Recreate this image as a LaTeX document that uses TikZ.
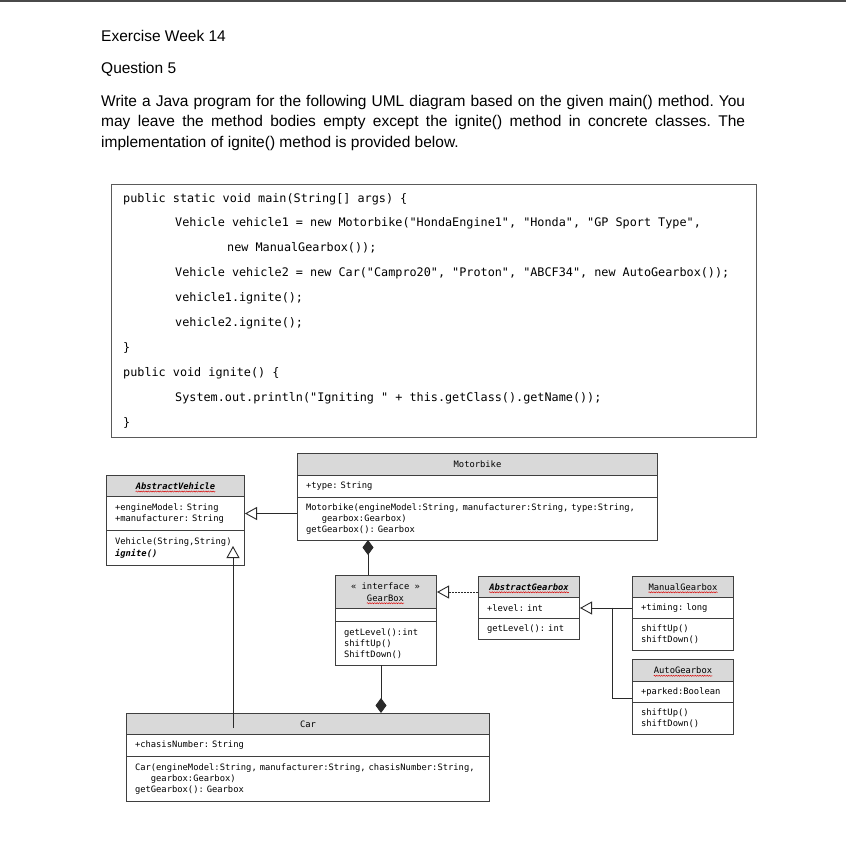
\documentclass[tikz,border=0pt]{standalone}
\usepackage{fontspec}
\setmainfont{Liberation Sans}
\setmonofont{DejaVu Sans Mono}
\usetikzlibrary{arrows.meta,decorations.pathmorphing,calc}
\definecolor{boxline}{HTML}{3F3F3F}
\definecolor{hdr}{HTML}{D9D9D9}
\definecolor{codeframe}{HTML}{5A5A5A}
\definecolor{topline}{HTML}{4A4A4A}
\definecolor{conn}{HTML}{2A2A2A}
\newcommand{\umlfont}{\ttfamily\fontsize{8.8}{11.2}\selectfont}
\newcommand{\codesize}{\ttfamily\fontsize{11.8}{14}\selectfont}
\newcommand{\txtsize}{\fontsize{15.5}{20.5}\selectfont}
\frenchspacing
\begin{document}
\begin{tikzpicture}[x=1pt,y=-1pt,
  hdrbox/.style={draw=boxline, line width=1pt, fill=hdr, anchor=north west, inner sep=0pt},
  secbox/.style={draw=boxline, line width=1pt, fill=white, anchor=north west, inner xsep=8.5pt, inner ysep=0pt, align=left, font=\umlfont},
  clsname/.style={inner sep=0pt, font=\umlfont},
  absname/.style={inner sep=0pt, font=\umlfont\bfseries\itshape},
  squig/.style={draw=red!85!black, line width=0.45pt, decorate, decoration={snake, amplitude=0.55pt, segment length=2.4pt}},
  codeline/.style={anchor=base west, inner sep=0pt, font=\codesize},
  txt/.style={anchor=base west, inner sep=0pt, font=\txtsize},
  link/.style={draw=conn, line width=0.9pt},
  gen/.style={link, -{Triangle[open, length=12pt, width=13pt]}},
  real/.style={link, dash pattern=on 1.6pt off 1.4pt, -{Triangle[open, length=12pt, width=13pt]}},
  compS/.style={link, {Diamond[length=15pt, width=11pt]}-},
  compE/.style={link, -{Diamond[length=15pt, width=11pt]}}]
\useasboundingbox (0,0) rectangle (846,868);
\fill[white] (0,0) rectangle (846,868);
\draw[topline, line width=1.6pt] (0,0.8) -- (846,0.8);

% ---- header text ----
\node[txt] (ex) at (101,41) {Exercise Week 14};
\node[txt] (q) at (101,73.5) {Question 5};
\node[txt] (p1) at (101,106) {\makebox[644pt][s]{Write a Java program for the following UML diagram based on the given main() method. You}};
\node[txt] (p2) at (101,126.5) {\makebox[644pt][s]{may leave the method bodies empty except the ignite() method in concrete classes. The}};
\node[txt] (p3) at (101,147) {implementation of ignite() method is provided below.};

% ---- code box ----
\node[draw=codeframe, line width=1.3pt, anchor=north west, minimum width=645pt, minimum height=253pt, inner sep=0pt] (codebox) at (111,184) {};
\node[codeline] (c1) at (123,202) {public static void main(String[] args) \{};
\node[codeline] (c2) at (175,226.9) {Vehicle vehicle1 = new Motorbike("HondaEngine1", "Honda", "GP Sport Type",};
\node[codeline] (c3) at (227,251.8) {new ManualGearbox());};
\node[codeline] (c4) at (175,276.7) {Vehicle vehicle2 = new Car("Campro20", "Proton", "ABCF34", new AutoGearbox());};
\node[codeline] (c5) at (175,301.6) {vehicle1.ignite();};
\node[codeline] (c6) at (175,326.5) {vehicle2.ignite();};
\node[codeline] (c7) at (123,351.4) {\}};
\node[codeline] (c8) at (123,376.3) {public void ignite() \{};
\node[codeline] (c9) at (175,401.2) {System.out.println("Igniting " + this.getClass().getName());};
\node[codeline] (c10) at (123,426.1) {\}};

% ---- AbstractVehicle ----
\node[hdrbox, minimum width=138pt, minimum height=21pt] (avh) at (106,475) {};
\node[absname] (avn) at (avh.center) {AbstractVehicle};
\node[secbox, minimum width=138pt, text width=121pt, minimum height=34pt] (ava) at (106,496) {+engineModel: String\\+manufacturer: String};
\node[secbox, minimum width=138pt, text width=121pt, minimum height=35pt] (avm) at (106,530) {Vehicle(String,String)\\\textbf{\textit{ignite()}}};

% ---- Motorbike ----
\node[hdrbox, minimum width=360pt, minimum height=22pt] (mbh) at (297,453) {};
\node[clsname] (mbn) at (mbh.center) {Motorbike};
\node[secbox, minimum width=360pt, text width=343pt, minimum height=22pt] (mba) at (297,475) {+type: String};
\node[secbox, minimum width=360pt, text width=343pt, minimum height=43pt] (mbm) at (297,497) {Motorbike(engineModel:String, manufacturer:String, type:String,\\\hspace*{15.9pt}gearbox:Gearbox)\\getGearbox(): Gearbox};

% ---- GearBox ----
\node[hdrbox, minimum width=101pt, minimum height=33pt] (gbh) at (335,575) {};
\node[clsname] (gbi) at (385.5,586) {« interface »};
\node[clsname] (gbn) at (385.5,598) {GearBox};
\node[secbox, minimum width=101pt, text width=84pt, minimum height=13pt] (gba) at (335,608) {};
\node[secbox, minimum width=101pt, text width=84pt, minimum height=44pt] (gbm) at (335,621) {getLevel():int\\shiftUp()\\ShiftDown()};

% ---- AbstractGearbox ----
\node[hdrbox, minimum width=101pt, minimum height=21pt] (agh) at (478,576) {};
\node[absname] (agn) at (agh.center) {AbstractGearbox};
\node[secbox, minimum width=101pt, text width=84pt, minimum height=21pt] (aga) at (478,597) {+level: int};
\node[secbox, minimum width=101pt, text width=84pt, minimum height=21pt] (agm) at (478,618) {getLevel(): int};

% ---- ManualGearbox ----
\node[hdrbox, minimum width=101pt, minimum height=21pt] (mgh) at (632,576) {};
\node[clsname] (mgn) at (mgh.center) {ManualGearbox};
\node[secbox, minimum width=101pt, text width=84pt, minimum height=21pt] (mga) at (632,597) {+timing: long};
\node[secbox, minimum width=101pt, text width=84pt, minimum height=32pt] (mgm) at (632,618) {shiftUp()\\shiftDown()};

% ---- AutoGearbox ----
\node[hdrbox, minimum width=101pt, minimum height=22pt] (auh) at (632,659) {};
\node[clsname] (aun) at (auh.center) {AutoGearbox};
\node[secbox, minimum width=101pt, text width=84pt, minimum height=21pt] (aua) at (632,681) {+parked:Boolean};
\node[secbox, minimum width=101pt, text width=84pt, minimum height=32pt] (aum) at (632,702) {shiftUp()\\shiftDown()};

% ---- Car ----
\node[hdrbox, minimum width=363pt, minimum height=21pt] (carh) at (126,713) {};
\node[clsname] (carn) at (carh.center) {Car};
\node[secbox, minimum width=363pt, text width=346pt, minimum height=22pt] (cara) at (126,734) {+chasisNumber: String};
\node[secbox, minimum width=363pt, text width=346pt, minimum height=45pt] (carm) at (126,756) {Car(engineModel:String, manufacturer:String, chasisNumber:String,\\\hspace*{15.9pt}gearbox:Gearbox)\\getGearbox(): Gearbox};

% ---- spell-check squiggles ----
\draw[squig] ([yshift=-2pt]avn.base west) -- ([yshift=-2pt]avn.base east);
\draw[squig] ([yshift=-2pt]gbn.base west) -- ([yshift=-2pt]gbn.base east);
\draw[squig] ([yshift=-2pt]agn.base west) -- ([yshift=-2pt]agn.base east);
\draw[squig] ([yshift=-2pt]mgn.base west) -- ([yshift=-2pt]mgn.base east);
\draw[squig] ([yshift=-2pt]aun.base west) -- ([yshift=-2pt]aun.base east);

% ---- connectors ----
\draw[gen] (mbm.west |- ava.east) -- (ava.east);
\coordinate (carjoin) at (233,728);
\coordinate (avtip) at (233,546);
\draw[gen] (carjoin) -- (avtip);
\coordinate (mbd) at (368,540);
\draw[compS] (mbd) -- (mbd |- gbh.north);
\coordinate (gbd) at (381,665);
\draw[compE] (gbd) -- (gbd |- carh.north);
\draw[real] (gbh.east -| agh.west) -- (gbh.east);
\draw[gen] (mga.west) -- (aga.east);
\coordinate (jn) at (612,607.5);
\draw[link] (jn) |- ($(aua.south west)+(0,-5)$);
\end{tikzpicture}
\end{document}
